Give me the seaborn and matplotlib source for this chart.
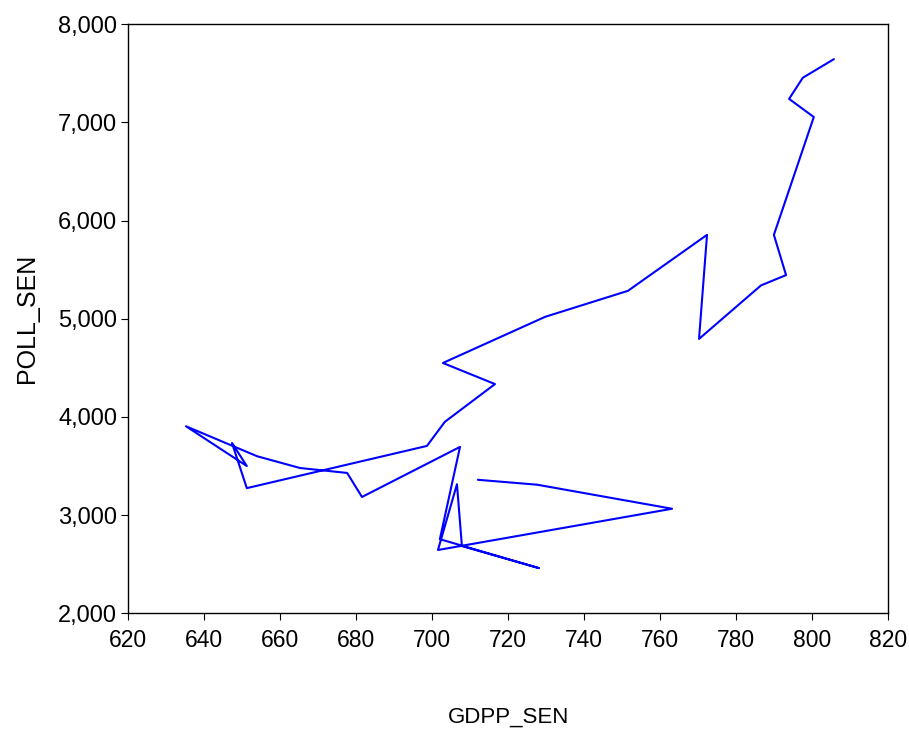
import matplotlib
matplotlib.use("Agg")
import matplotlib.pyplot as plt
import matplotlib.ticker as mticker
from matplotlib import font_manager
import pandas as pd
import seaborn as sns

# values, in drawing order
gdpp_sen = [712.0, 727.6, 763.1, 701.5, 706.5, 707.8, 728.1, 702.0, 707.3, 681.5,
            677.6, 665.2, 653.9, 635.2, 651.2, 647.3, 651.2, 698.6, 703.3, 716.5,
            702.8, 729.7, 751.5, 772.3, 770.2, 786.5, 793.1, 789.9, 800.4, 793.9,
            797.5, 805.7]
poll_sen = [3360, 3310, 3065, 2645, 3315, 2685, 2460, 2755, 3695, 3185,
            3430, 3480, 3600, 3905, 3500, 3735, 3275, 3705, 3950, 4335,
            4550, 5020, 5285, 5855, 4795, 5340, 5445, 5855, 7055, 7240,
            7455, 7645]

x_ticks = [620, 640, 660, 680, 700, 720, 740, 760, 780, 800, 820]
y_ticks = [2000, 3000, 4000, 5000, 6000, 7000, 8000]

df = pd.DataFrame({"GDPP_SEN": gdpp_sen, "POLL_SEN": poll_sen})

sns.set_theme(style="ticks")
plt.rcParams["font.family"] = ["Liberation Sans", "DejaVu Sans"]
plt.rcParams["text.color"] = "black"
plt.rcParams["axes.labelcolor"] = "black"
plt.rcParams["xtick.color"] = "black"
plt.rcParams["ytick.color"] = "black"

installed = {f.name for f in font_manager.fontManager.ttflist}
narrow = "Liberation Sans Narrow" if "Liberation Sans Narrow" in installed else "Liberation Sans"

fig = plt.figure(figsize=(9.09, 7.29), dpi=100)
ax = fig.add_axes([0.1411, 0.1587, 0.8361, 0.808])

sns.lineplot(data=df, x="GDPP_SEN", y="POLL_SEN", sort=False, estimator=None,
             color="#0000ff", linewidth=1.5, ax=ax)

ax.set_xlim(620, 820)
ax.set_ylim(2000, 8000)
ax.set_xticks(x_ticks)
ax.set_yticks(y_ticks)
ax.yaxis.set_major_formatter(mticker.StrMethodFormatter("{x:,.0f}"))

for s in ax.spines.values():
    s.set_color("black")
    s.set_linewidth(1.0)
    s.set_visible(True)

ax.tick_params(axis="both", direction="out", length=5, width=0.8, color="black")
ax.tick_params(axis="y", labelsize=17, pad=3)
ax.tick_params(axis="x", labelsize=16.5, pad=6)
for lab in ax.get_xticklabels():
    lab.set_family(narrow)

ax.set_xlabel("GDPP_SEN", fontsize=16, family=narrow, labelpad=40)
ax.set_ylabel("POLL_SEN", fontsize=18, labelpad=14)

fig.savefig("out.png", dpi=100)
